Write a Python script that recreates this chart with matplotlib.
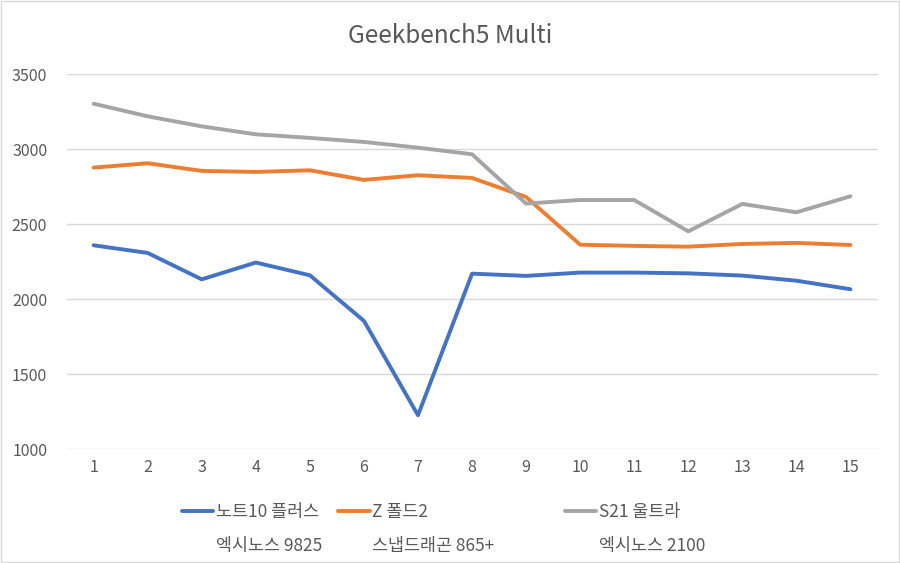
import matplotlib
matplotlib.use('Agg')
import matplotlib.pyplot as plt
from matplotlib.patches import Rectangle

plt.rcParams['font.family'] = ['Noto Sans CJK KR', 'DejaVu Sans']

runs = list(range(1, 16))
note10 = [2360, 2309, 2133, 2245, 2160, 1856, 1227, 2171, 2156, 2178, 2178, 2173, 2158, 2124, 2067]
fold2 = [2878, 2907, 2856, 2849, 2860, 2796, 2827, 2809, 2682, 2364, 2356, 2351, 2369, 2376, 2362]
s21 = [3304, 3220, 3153, 3100, 3076, 3049, 3011, 2967, 2638, 2662, 2662, 2453, 2636, 2580, 2687]

names = ['노트10 플러스', 'Z 폴드2', 'S21 울트라']
chips = ['엑시노스 9825', '스냅드래곤 865+', '엑시노스 2100']
colors = ['#4472C4', '#ED7D31', '#A5A5A5']
yticks = [1000, 1500, 2000, 2500, 3000, 3500]

fig = plt.figure(figsize=(9, 5.63), dpi=100)
ax = fig.add_axes([0.074, 0.202, 0.901, 0.666])

lines = []
for vals, c, n in zip([note10, fold2, s21], colors, names):
    ln, = ax.plot(runs, vals, color=c, lw=2.8, label=n, solid_capstyle='round', solid_joinstyle='round')
    lines.append(ln)

ax.set_xlim(0.5, 15.5)
ax.set_ylim(1000, 3500)
ax.set_yticks(yticks)
ax.set_xticks(runs)
ax.grid(axis='y', color='#D9D9D9', lw=1)
ax.set_axisbelow(True)
for s in ax.spines.values():
    s.set_visible(False)
ax.tick_params(length=0, colors='#595959', labelsize=11.5)
ax.tick_params(axis='x', pad=7)
ax.tick_params(axis='y', pad=14)

fig.suptitle('Geekbench5 Multi', y=0.96, fontsize=17.5, color='#595959')

# legend entries placed one by one, Excel spaces them by the longest line
fs = 12.5
legs = []
for ln, n, x in zip(lines, names, [0.202, 0.376, 0.628]):
    lg = fig.legend([ln], [n], loc='center left', bbox_to_anchor=(x, 0.09), frameon=False,
                    fontsize=fs, handlelength=1.8, handletextpad=0.15, borderpad=0,
                    borderaxespad=0, labelcolor='#595959')
    legs.append(lg)

fig.canvas.draw()
inv = fig.transFigure.inverted()
for lg, chip in zip(legs, chips):
    bb = lg.get_texts()[0].get_window_extent()
    x0, y0 = inv.transform((bb.x0, bb.y0))
    fig.text(x0, y0 - 0.028, chip, fontsize=fs, color='#595959', va='top', ha='left')

fig.patches.append(Rectangle((0.001, 0.001), 0.998, 0.998, transform=fig.transFigure,
                             fill=False, edgecolor='#D9D9D9', lw=1))

fig.savefig('out.png', dpi=100)
